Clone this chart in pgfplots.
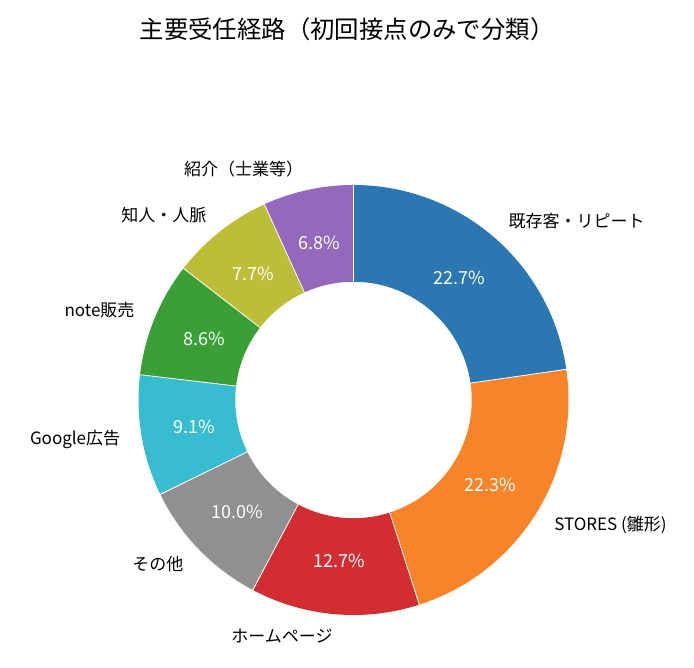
\documentclass[border=0pt]{standalone}
\usepackage{fontspec}
\setmainfont{Noto Sans CJK JP}
\usepackage{pgfplots}
\usepackage{pgfplotstable}
\pgfplotsset{compat=1.18}

\definecolor{c0}{HTML}{2A77B2}
\definecolor{c1}{HTML}{F8842A}
\definecolor{c2}{HTML}{D22E31}
\definecolor{c3}{HTML}{909090}
\definecolor{c4}{HTML}{38BCCF}
\definecolor{c5}{HTML}{3A9F36}
\definecolor{c6}{HTML}{BEBD38}
\definecolor{c7}{HTML}{9468BC}

\newcommand\lblfont{\fontsize{17}{20}\selectfont}
\newcommand\pctfont{\fontsize{18}{21}\selectfont}
\newcommand\ttlfont{\fontsize{24.4}{28}\selectfont}

\pgfplotstableread[col sep=comma]{
name,value
既存客・リピート,22.7
STORES (雛形),22.3
ホームページ,12.7
その他,10.0
Google広告,9.1
note販売,8.6
知人・人脈,7.7
紹介（士業等）,6.8
}\datatable

% cumulative angles (start at 90 deg, clockwise), label positions
\def\total{0}
\pgfplotsforeachungrouped \i in {0,...,7}{%
  \pgfplotstablegetelem{\i}{value}\of\datatable
  \pgfmathsetmacro\total{\total+\pgfplotsretval}%
}
\def\cum{0}
\pgfplotsforeachungrouped \i in {0,...,7}{%
  \pgfplotstablegetelem{\i}{value}\of\datatable
  \let\v\pgfplotsretval
  \pgfmathsetmacro\a{90-(\cum/\total)*360}%
  \pgfmathsetmacro\cum{\cum+\v}%
  \pgfmathsetmacro\b{90-(\cum/\total)*360}%
  \pgfmathsetmacro\m{(\a+\b)/2}%
  \pgfmathsetmacro\lx{1.1*cos(\m)}%
  \pgfmathsetmacro\ly{1.1*sin(\m)}%
  \pgfmathsetmacro\px{0.75*cos(\m)}%
  \pgfmathsetmacro\py{0.75*sin(\m)}%
  \ifdim\lx pt>0pt \def\anc{west}\else\def\anc{east}\fi
  \expandafter\xdef\csname sa\i\endcsname{\a}%
  \expandafter\xdef\csname sb\i\endcsname{\b}%
  \expandafter\xdef\csname lx\i\endcsname{\lx}%
  \expandafter\xdef\csname ly\i\endcsname{\ly}%
  \expandafter\xdef\csname px\i\endcsname{\px}%
  \expandafter\xdef\csname py\i\endcsname{\py}%
  \expandafter\xdef\csname an\i\endcsname{\anc}%
  \expandafter\xdef\csname sv\i\endcsname{\v}%
  \pgfplotstablegetelem{\i}{name}\of\datatable
  \expandafter\xdef\csname sn\i\endcsname{\pgfplotsretval}%
}

\begin{document}
\begin{tikzpicture}
\begin{axis}[
  x=215pt, y=215pt,
  xmin=-1.64419, xmax=1.58372,
  ymin=-1.24651, ymax=1.86047,
  hide axis, clip=false,
]
\pgfplotsinvokeforeach{0,...,7}{%
  \edef\tmp{\noexpand\addplot[draw=c#1, line width=96.75pt, line cap=butt,
    domain=\csname sb#1\endcsname:\csname sa#1\endcsname, samples=120, mark=none]
    ({0.775*cos(x)},{0.775*sin(x)});}%
  \tmp
}
\pgfplotsinvokeforeach{0,...,7}{%
  \edef\tmp{\noexpand\addplot[draw=white, line width=0.8pt, domain=0.54:1.01, samples=2, mark=none]
    ({x*cos(\csname sa#1\endcsname)},{x*sin(\csname sa#1\endcsname)});}%
  \tmp
}
\pgfplotsinvokeforeach{0,...,7}{%
  \edef\tmp{\noexpand\node[anchor=\csname an#1\endcsname, font=\noexpand\lblfont, inner sep=0pt, text=black]
    at (axis cs:\csname lx#1\endcsname,\csname ly#1\endcsname) {\csname sn#1\endcsname};
    \noexpand\node[anchor=center, font=\noexpand\pctfont, inner sep=0pt, text=white]
    at (axis cs:\csname px#1\endcsname,\csname py#1\endcsname) {\csname sv#1\endcsname\noexpand\%};}%
  \tmp
}
\node[font=\ttlfont, anchor=center, inner sep=0pt] at (axis cs:-0.030,1.7233) {主要受任経路（初回接点のみで分類）};
\end{axis}
\pgfresetboundingbox
\useasboundingbox (current axis.south west) rectangle (current axis.north east);
\end{tikzpicture}
\end{document}
